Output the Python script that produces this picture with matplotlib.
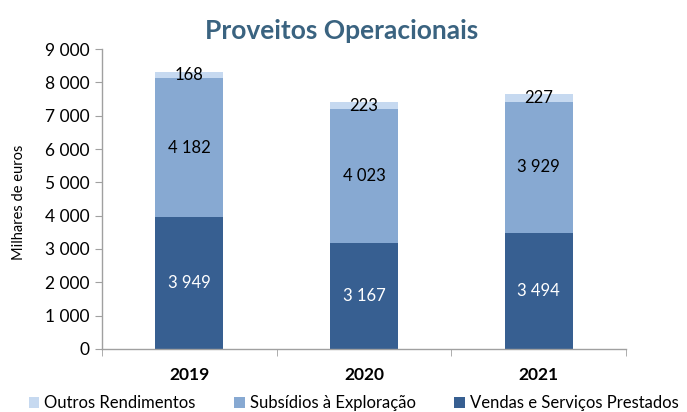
import matplotlib
matplotlib.use("Agg")
import matplotlib.pyplot as plt
from matplotlib.ticker import FuncFormatter, FixedLocator

years = ["2019", "2020", "2021"]
vendas = [3949, 3167, 3494]
subsidios = [4182, 4023, 3929]
outros = [168, 223, 227]

series_names = ["Outros Rendimentos", "Subsídios à Exploração", "Vendas e Serviços Prestados"]
c_dark = "#375F91"
c_mid = "#87A9D2"
c_light = "#C6D9F0"

plt.rcParams["font.family"] = ["Lato", "DejaVu Sans"]

fig = plt.figure(figsize=(6.87, 4.12), dpi=100)
ax = fig.add_axes([0.1485, 0.153, 0.7625, 0.728])

x = list(range(len(years)))
w = 0.39
b1 = ax.bar(x, vendas, w, color=c_dark, label=series_names[2], zorder=2)
bottom2 = vendas
b2 = ax.bar(x, subsidios, w, bottom=bottom2, color=c_mid, label=series_names[1], zorder=2)
bottom3 = [a + b for a, b in zip(vendas, subsidios)]
b3 = ax.bar(x, outros, w, bottom=bottom3, color=c_light, label=series_names[0], zorder=2)

def fmt(v):
    return f"{int(v):,}".replace(",", " ")

for i in x:
    ax.text(i, vendas[i] / 2, fmt(vendas[i]), ha="center", va="center",
            color="white", fontsize=12, zorder=3)
    ax.text(i, vendas[i] + subsidios[i] / 2, fmt(subsidios[i]), ha="center",
            va="center", color="black", fontsize=12, zorder=3)
    ax.text(i, bottom3[i] + outros[i] / 2, fmt(outros[i]), ha="center",
            va="center", color="black", fontsize=12, zorder=3)

ax.set_xlim(-0.5, 2.5)
ax.set_ylim(0, 9000)
ax.set_yticks(range(0, 9001, 1000))
ax.yaxis.set_major_formatter(FuncFormatter(lambda v, p: fmt(v)))
ax.set_xticks(x)
ax.set_xticklabels(years, fontweight="bold", fontsize=12.5)
ax.xaxis.set_minor_locator(FixedLocator([-0.5, 0.5, 1.5, 2.5]))
ax.tick_params(axis="x", which="major", length=0, pad=13)
ax.tick_params(axis="x", which="minor", length=5, color="#A0A0A0", direction="out")
ax.tick_params(axis="y", length=5, color="#A0A0A0", labelsize=12.5, pad=4)

for s in ["top", "right"]:
    ax.spines[s].set_visible(False)
for s in ["left", "bottom"]:
    ax.spines[s].set_color("#A0A0A0")
    ax.spines[s].set_linewidth(1.0)

ax.set_ylabel("Milhares de euros", fontsize=10.5)
ax.yaxis.set_label_coords(-0.145, 0.49)

fig.suptitle("Proveitos Operacionais", x=0.497, y=0.955, fontsize=19,
             fontweight="bold", color="#3A6380")

handles = [b3, b2, b1]
fig.legend(handles, series_names, loc="lower center", bbox_to_anchor=(0.515, -0.034),
           ncol=3, frameon=False, fontsize=12, handlelength=0.65, handleheight=0.65,
           handletextpad=0.3, columnspacing=2.3)

fig.savefig("out.png", dpi=100)
